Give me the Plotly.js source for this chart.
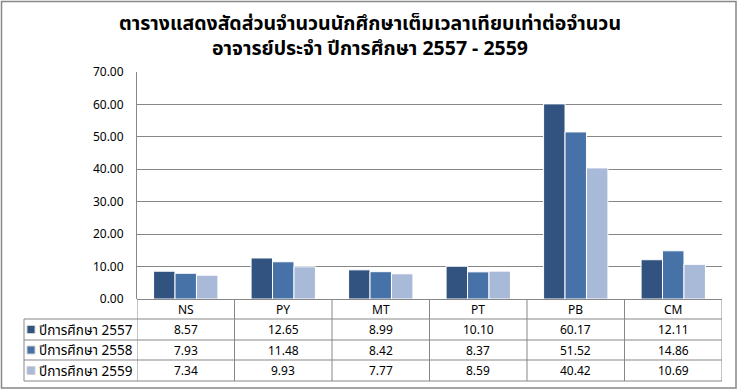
<!DOCTYPE html>
<html>
<head>
<meta charset="utf-8">
<script src="https://cdn.plot.ly/plotly-3.0.1.min.js"></script>
<style>html,body{margin:0;padding:0;background:#fff;}#chart{width:738px;height:390px;}</style>
</head>
<body>
<div id="chart"></div>
<script>
const categories = ['NS', 'PY', 'MT', 'PT', 'PB', 'CM'];
const seriesNames = ['ปีการศึกษา 2557', 'ปีการศึกษา 2558', 'ปีการศึกษา 2559'];
const values2557 = [8.57, 12.65, 8.99, 10.10, 60.17, 12.11];
const values2558 = [7.93, 11.48, 8.42, 8.37, 51.52, 14.86];
const values2559 = [7.34, 9.93, 7.77, 8.59, 40.42, 10.69];
const seriesColors = ['#325380', '#4672A7', '#A9B9D8'];
const titleText = 'ตารางแสดงสัดส่วนจำนวนนักศึกษาเต็มเวลาเทียบเท่าต่อจำนวน<br>อาจารย์ประจำ ปีการศึกษา 2557 - 2559';

const allSeries = [values2557, values2558, values2559];

// layout geometry (pixels)
const W = 738, H = 390;
const plotL = 137, plotR = 722, plotT = 72, plotB = 299;
const rowEdges = [299, 319, 340, 360, 381];
const legendLeft = 24;
const lineColor = '#878787';
const FONT = '"Noto Sans", "Noto Sans Thai", Tahoma, sans-serif';

function px(p) { return (p - plotL) / (plotR - plotL); }
function py(p) { return (plotB - p) / (plotB - plotT); }

const traces = allSeries.map((vals, i) => ({
  type: 'bar',
  name: seriesNames[i],
  x: categories,
  y: vals,
  marker: { color: seriesColors[i], line: { color: '#ffffff', width: 1 } },
  hoverinfo: 'x+y+name'
}));

const shapes = [];
const annotations = [];

// title
annotations.push({ text: titleText, xref: 'paper', yref: 'paper', x: px(370), y: py(35.5),
  xanchor: 'center', yanchor: 'middle', align: 'center', showarrow: false,
  font: { family: FONT, size: 19.5, color: '#000', weight: 'bold' } });

// outer border
shapes.push({ type: 'rect', xref: 'paper', yref: 'paper',
  x0: px(1.5), x1: px(736), y0: py(1.5), y1: py(388),
  line: { color: lineColor, width: 1.5 }, fillcolor: 'rgba(0,0,0,0)', layer: 'below' });

// table horizontal lines
for (let r = 1; r < rowEdges.length; r++) {
  shapes.push({ type: 'line', xref: 'paper', yref: 'paper',
    x0: px(legendLeft), x1: px(plotR), y0: py(rowEdges[r]), y1: py(rowEdges[r]),
    line: { color: lineColor, width: 1 } });
}
// table vertical lines at category boundaries
for (let c = 0; c <= categories.length; c++) {
  shapes.push({ type: 'line', xref: 'x', yref: 'paper',
    x0: c - 0.5, x1: c - 0.5, y0: py(rowEdges[0]), y1: py(rowEdges[rowEdges.length - 1]),
    line: { color: lineColor, width: 1 } });
}
// legend column left border
shapes.push({ type: 'line', xref: 'paper', yref: 'paper',
  x0: px(legendLeft), x1: px(legendLeft), y0: py(rowEdges[1]), y1: py(rowEdges[rowEdges.length - 1]),
  line: { color: lineColor, width: 1 } });

// category header row
categories.forEach((cat, c) => {
  annotations.push({ x: cat, xref: 'x', yref: 'paper',
    y: py((rowEdges[0] + rowEdges[1]) / 2), text: cat, showarrow: false,
    xanchor: 'center', yanchor: 'middle', font: { family: FONT, size: 12, color: '#000' } });
});

// data rows
allSeries.forEach((vals, s) => {
  const yc = py((rowEdges[s + 1] + rowEdges[s + 2]) / 2);
  vals.forEach((v, c) => {
    annotations.push({ x: categories[c], xref: 'x', yref: 'paper', y: yc,
      text: v.toFixed(2), showarrow: false, xanchor: 'center', yanchor: 'middle',
      font: { family: FONT, size: 12, color: '#000' } });
  });
  // legend key
  const mid = (rowEdges[s + 1] + rowEdges[s + 2]) / 2;
  shapes.push({ type: 'rect', xref: 'paper', yref: 'paper',
    x0: px(27), x1: px(35), y0: py(mid - 4), y1: py(mid + 4),
    fillcolor: seriesColors[s], line: { color: '#d0d0d0', width: 1 } });
  annotations.push({ x: px(37), xref: 'paper', yref: 'paper', y: yc,
    text: seriesNames[s], showarrow: false, xanchor: 'left', yanchor: 'middle',
    font: { family: FONT, size: 13.5, color: '#000' } });
});

const layout = {
  width: W, height: H,
  margin: { l: plotL, r: W - plotR, t: plotT, b: H - plotB, pad: 0 },
  paper_bgcolor: '#fff', plot_bgcolor: '#fff',
  showlegend: false,
  bargap: 0.34, bargroupgap: 0,
  xaxis: { type: 'category', range: [-0.5, 5.5], showticklabels: false, showgrid: false,
    zeroline: false, showline: false, ticks: '', fixedrange: true },
  yaxis: { range: [0, 70], dtick: 10, tickformat: '.2f', showgrid: true, gridcolor: lineColor,
    gridwidth: 1, zeroline: true, zerolinecolor: lineColor, zerolinewidth: 1,
    showline: true, linecolor: lineColor, linewidth: 1, ticks: '', ticklabelstandoff: 10,
    tickfont: { family: FONT, size: 12, color: '#000' }, fixedrange: true },
  shapes: shapes,
  annotations: annotations
};

Plotly.newPlot('chart', traces, layout, { displayModeBar: false, responsive: false });
</script>
</body>
</html>
